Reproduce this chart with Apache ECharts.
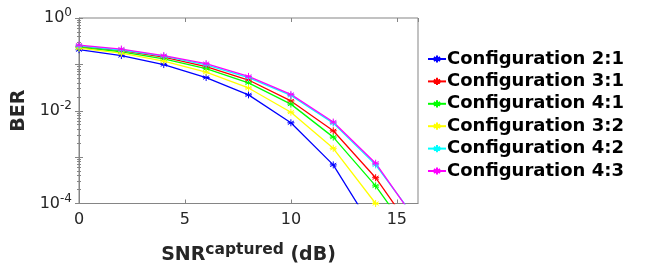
<!DOCTYPE html>
<html>
<head>
<meta charset="utf-8">
<script src="https://cdn.jsdelivr.net/npm/echarts@6/dist/echarts.min.js"></script>
<style>
  html, body { margin: 0; padding: 0; background: #fff; }
  #chart { width: 648px; height: 270px; }
</style>
</head>
<body>
<div id="chart"></div>
<script>
// data
const snr = [0, 2, 4, 6, 8, 10, 12, 14, 16]
const names = ['Configuration 2:1', 'Configuration 3:1', 'Configuration 4:1',
  'Configuration 3:2', 'Configuration 4:2', 'Configuration 4:3']
const colors = ['#0000ff', '#ff0000', '#00ff00', '#ffff00', '#00ffff', '#ff00ff']
const ber21 = [0.207, 0.155, 0.099, 0.052, 0.022, 0.0055, 0.00068, 0.000023, 0.000001]
const ber31 = [0.243, 0.197, 0.143, 0.089, 0.046, 0.0163, 0.0037, 0.00036, 0.000018]
const ber41 = [0.232, 0.187, 0.132, 0.081, 0.040, 0.0139, 0.0027, 0.00024, 0.0000126]
const ber32 = [0.224, 0.174, 0.118, 0.068, 0.031, 0.0093, 0.00155, 0.0001, 0.000004]
const ber42 = [0.251, 0.204, 0.150, 0.098, 0.052, 0.0214, 0.0054, 0.00068, 0.00004]
const ber43 = [0.260, 0.214, 0.155, 0.104, 0.055, 0.0225, 0.0057, 0.00074, 0.000037]
const yTickLabels = { '0': '0', '-2': '-2', '-4': '-4' }

const allBer = [ber21, ber31, ber41, ber32, ber42, ber43]
const star = 'path://M0,-1L0,1M-0.87,-0.5L0.87,0.5M-0.87,0.5L0.87,-0.5M-1,0L1,0'

let series = allBer.map((ber, i) => ({
  name: names[i],
  type: 'line',
  data: snr.map((x, j) => [x, ber[j]]),
  symbol: star,
  symbolSize: 7,
  showAllSymbol: true,
  lineStyle: { color: colors[i], width: 1.3 },
  itemStyle: { color: colors[i], borderColor: colors[i], borderWidth: 1 },
  clip: true
}))

const axisGrey = '#858585'
const textCol = '#262626'

let option = {
  animation: false,
  backgroundColor: '#fff',
  grid: { left: 79, right: 230, top: 18, bottom: 61, show: true, borderColor: axisGrey, borderWidth: 1 },
  legend: {
    orient: 'vertical',
    left: 427,
    top: 50,
    padding: 0,
    data: names,
    itemWidth: 18,
    itemHeight: 9,
    itemGap: 4.4,
    textStyle: { fontFamily: 'DejaVu Sans', fontWeight: 'bold', fontSize: 18, lineHeight: 18, color: '#000', padding: [0, 0, 0, -4] }
  },
  xAxis: [{
    type: 'value',
    min: 0, max: 16, interval: 5,
    axisLine: { lineStyle: { color: axisGrey } },
    axisTick: { inside: true, length: 4, lineStyle: { color: axisGrey } },
    splitLine: { show: false },
    axisLabel: { fontFamily: 'DejaVu Sans', fontSize: 16, color: textCol, margin: 8, showMaxLabel: false },
    name: '{b|SNR}{s|captured}{b| (dB)}',
    nameLocation: 'middle',
    nameGap: 38,
    nameTextStyle: {
      rich: {
        b: { fontFamily: 'DejaVu Sans', fontWeight: 'bold', fontSize: 19, color: textCol },
        s: { fontFamily: 'DejaVu Sans', fontWeight: 'bold', fontSize: 15.5, color: textCol, padding: [0, 0, 12, 0] }
      }
    }
  }, {
    type: 'value', position: 'top',
    min: 0, max: 16, interval: 5,
    axisLine: { show: false },
    axisTick: { inside: true, length: 4, lineStyle: { color: axisGrey } },
    axisLabel: { show: false },
    splitLine: { show: false }
  }],
  yAxis: [{
    type: 'log',
    logBase: 10,
    min: 1e-4, max: 1,
    axisLine: { show: true, lineStyle: { color: axisGrey } },
    axisTick: { inside: true, length: 4, lineStyle: { color: axisGrey } },
    minorTick: { show: true, splitNumber: 9, length: 2, lineStyle: { color: axisGrey } },
    splitLine: { show: false },
    axisLabel: {
      margin: 7,
      formatter: v => {
        let e = String(Math.round(Math.log10(v)))
        return yTickLabels[e] !== undefined ? '{b|10}{s|' + yTickLabels[e] + '}' : ''
      },
      rich: {
        b: { fontFamily: 'DejaVu Sans', fontSize: 16, color: textCol },
        s: { fontFamily: 'DejaVu Sans', fontSize: 12, color: textCol, padding: [0, 0, 10, 0] }
      }
    },
    name: 'BER',
    nameLocation: 'middle',
    nameGap: 46,
    nameRotate: 90,
    nameTextStyle: { fontFamily: 'DejaVu Sans', fontWeight: 'bold', fontSize: 19, color: textCol }
  }, {
    type: 'log',
    logBase: 10,
    position: 'right',
    min: 1e-4, max: 1,
    axisLine: { show: false },
    axisTick: { inside: true, length: 4, lineStyle: { color: axisGrey } },
    minorTick: { show: true, splitNumber: 9, length: 2, lineStyle: { color: axisGrey } },
    axisLabel: { show: false },
    splitLine: { show: false }
  }],
  series: series
}

let chart = echarts.init(document.getElementById('chart'))
chart.setOption(option)
</script>
</body>
</html>
